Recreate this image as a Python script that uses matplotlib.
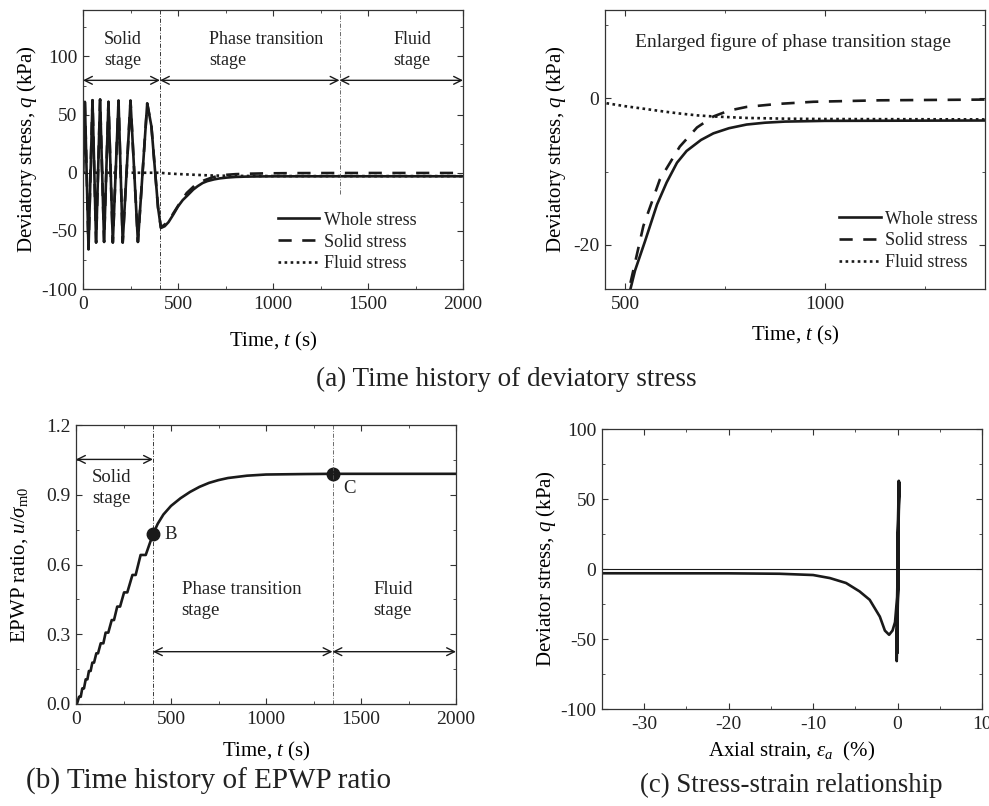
import numpy as np
import matplotlib
matplotlib.use("Agg")
import matplotlib.pyplot as plt
from matplotlib.ticker import MultipleLocator, FormatStrFormatter

# ---- data ----
# cyclic (solid) stage: start, then peak / trough pairs of deviatory stress
cyc_t = [0, 10, 29, 50, 69, 90, 111, 134, 157, 187, 209, 250, 289, 338, 360, 380, 395]
cyc_q = [0, 61, -65.8, 62.4, -60, 63, -59.5, 61, -60, 62, -60, 62, -59.5, 59.6, 40, 0, -30]

# phase transition + fluid stage
whole_t = [410, 430, 450, 475, 500, 525, 550, 580, 604, 630, 654, 690, 721, 760, 804, 850, 900, 1000, 1400, 2000]
whole_q = [-47.5, -46, -42.5, -36, -29, -23.5, -19.5, -14.5, -11.5, -8.8, -7.2, -5.7, -4.8, -4.1, -3.6, -3.35, -3.2, -3.1, -3.05, -3.05]

solid_t = [410, 450, 475, 506, 546, 587, 637, 680, 721, 760, 804, 880, 971, 1137, 1400, 2000]
solid_q = [-47, -42, -35, -27, -17.4, -11.1, -6.6, -4.0, -2.5, -1.7, -1.2, -0.8, -0.5, -0.3, -0.2, -0.2]

fluid_t = [0, 400, 454, 500, 554, 600, 637, 680, 721, 804, 900, 1000, 1400, 2000]
fluid_q = [0, 0, -0.7, -1.1, -1.5, -1.85, -2.1, -2.35, -2.5, -2.7, -2.8, -2.85, -2.9, -2.9]

# EPWP ratio
epwp_t = [0, 5, 16, 25, 33, 42, 51, 60, 68, 77, 86, 95, 107, 116, 130, 144, 156, 170,
          188, 200, 217, 232, 253, 270, 297, 314, 340, 367, 405, 430, 460, 500, 550,
          600, 650, 700, 750, 800, 900, 1000, 1200, 1350, 2000]
epwp_r = [0, 0, 0.031, 0.031, 0.067, 0.067, 0.106, 0.106, 0.142, 0.142, 0.178, 0.178,
          0.218, 0.218, 0.261, 0.261, 0.307, 0.307, 0.361, 0.361, 0.419, 0.419, 0.480,
          0.480, 0.555, 0.555, 0.641, 0.641, 0.73, 0.775, 0.815, 0.852, 0.885, 0.912,
          0.934, 0.951, 0.963, 0.972, 0.982, 0.987, 0.989, 0.99, 0.99]
pt_B = (405, 0.73)
pt_C = (1350, 0.99)

# stress-strain path
ss_strain = [0, 0.12, -0.1, 0.14, -0.08, 0.15, -0.06, 0.16, -0.05, 0.17, -0.04, 0.18, -0.05,
             0.15, 0.08, -0.05, -0.3, -0.6, -1.0, -1.5, -2.1, -3.3, -4.5, -6.1, -8.0, -10.0,
             -14.0, -20.0, -35.0]
ss_q = [0, 61, -65.8, 62.4, -60, 63, -59.5, 61, -60, 62, -60, 62, -59.5,
        59.6, 20, -20, -38, -44, -47, -44, -34, -22, -16, -10, -6.5, -4.3,
        -3.4, -3.1, -3.05]

t_solid_end = 405
t_fluid_start = 1350

plt.rcParams.update({
    "font.family": "Liberation Serif",
    "mathtext.fontset": "custom",
    "mathtext.rm": "Liberation Serif",
    "mathtext.it": "Liberation Serif:italic",
    "axes.unicode_minus": False,
    "font.size": 14,
    "axes.labelsize": 15,
    "text.color": "#222222",
    "axes.edgecolor": "#333333",
    "axes.linewidth": 0.9,
    "xtick.direction": "in",
    "ytick.direction": "in",
    "xtick.top": True,
    "ytick.right": True,
    "xtick.major.size": 4,
    "ytick.major.size": 4,
    "xtick.minor.size": 2.5,
    "ytick.minor.size": 2.5,
    "xtick.labelsize": 14,
    "ytick.labelsize": 14,
    "xtick.major.pad": 5,
    "ytick.major.pad": 4,
})

W, H = 989, 806
fig = plt.figure(figsize=(W / 100, H / 100), dpi=100)


def box(l, t, r, b):
    return [l / W, 1 - b / H, (r - l) / W, (b - t) / H]


ax1 = fig.add_axes(box(83, 10, 463, 289))
ax2 = fig.add_axes(box(605, 10, 985, 289))
ax3 = fig.add_axes(box(76, 425, 456, 704))
ax4 = fig.add_axes(box(602, 429, 982, 709))

lc = "#1a1a1a"
lw = 1.9
dash = (0, (5, 4))
dot = (0, (1, 1.3))
dashdot = (0, (5, 2, 1, 2))
ann_fs = 13.5

whole_all_t = cyc_t + whole_t
whole_all_q = cyc_q + whole_q
solid_all_t = cyc_t + solid_t
solid_all_q = cyc_q + solid_q

# (a) left
ax1.plot(solid_all_t, solid_all_q, color=lc, lw=lw, ls=dash, label="Solid stress")
ax1.plot(fluid_t, fluid_q, color=lc, lw=lw, ls=dot, label="Fluid stress")
ax1.plot(whole_all_t, whole_all_q, color=lc, lw=lw, label="Whole stress")
ax1.axvline(t_solid_end, color=lc, lw=0.6, ls=dashdot)
ax1.vlines(t_fluid_start, -18, 140, color="#555555", lw=0.6, ls=dashdot)
ax1.set_xlim(0, 2000)
ax1.set_ylim(-100, 140)
ax1.xaxis.set_major_locator(MultipleLocator(500))
ax1.xaxis.set_minor_locator(MultipleLocator(250))
ax1.yaxis.set_minor_locator(MultipleLocator(25))
ax1.set_yticks([-100, -50, 0, 50, 100])
ax1.set_xlabel(r"Time, $t$ (s)")
ax1.xaxis.set_label_coords(0.5, -0.147)
ax1.set_ylabel(r"Deviatory stress, $q$ (kPa)")
ax1.yaxis.set_label_coords(-0.115, 0.5)
arr = dict(arrowstyle="<->", lw=1.0, color=lc, shrinkA=0, shrinkB=0, mutation_scale=14)
for a, b in [(0, t_solid_end), (t_solid_end, t_fluid_start), (t_fluid_start, 2000)]:
    ax1.annotate("", xy=(b, 79.5), xytext=(a, 79.5), arrowprops=arr)
ax1.text(110, 105.5, "Solid\nstage", ha="left", va="center", linespacing=1.3, fontsize=13)
ax1.text(665, 105.5, "Phase transition\nstage", ha="left", va="center", linespacing=1.3, fontsize=13)
ax1.text(1633, 105.5, "Fluid\nstage", ha="left", va="center", linespacing=1.3, fontsize=13)
h, l = ax1.get_legend_handles_labels()
order = [2, 0, 1]
leg_kw = dict(loc="upper left", frameon=False, borderpad=0, borderaxespad=0,
              handlelength=2.3, handletextpad=0.25, labelspacing=0.27, fontsize=13)
ax1.legend([h[i] for i in order], [l[i] for i in order], bbox_to_anchor=(0.513, 0.277), **leg_kw)

# (a) right, enlarged
ax2.plot(solid_t, solid_q, color=lc, lw=lw, ls=dash, label="Solid stress")
ax2.plot(fluid_t, fluid_q, color=lc, lw=lw, ls=dot, label="Fluid stress")
ax2.plot(whole_t, whole_q, color=lc, lw=lw, label="Whole stress")
ax2.set_xlim(450, 1400)
ax2.set_ylim(-26, 12)
ax2.xaxis.set_major_locator(MultipleLocator(500))
ax2.xaxis.set_minor_locator(MultipleLocator(250))
ax2.yaxis.set_major_locator(MultipleLocator(20))
ax2.yaxis.set_minor_locator(MultipleLocator(10))
ax2.set_xlabel(r"Time, $t$ (s)")
ax2.xaxis.set_label_coords(0.5, -0.125)
ax2.set_ylabel(r"Deviatory stress, $q$ (kPa)")
ax2.text(919, 7.6, "Enlarged figure of phase transition stage", ha="center", va="center")
h, l = ax2.get_legend_handles_labels()
ax2.legend([h[i] for i in order], [l[i] for i in order], bbox_to_anchor=(0.616, 0.281), **leg_kw)

# (b) EPWP ratio
ax3.plot(epwp_t, epwp_r, color=lc, lw=lw)
ax3.plot(*pt_B, "o", color=lc, ms=9)
ax3.plot(*pt_C, "o", color=lc, ms=9)
ax3.text(pt_B[0] + 60, pt_B[1], "B", ha="left", va="center", fontsize=ann_fs)
ax3.text(pt_C[0] + 55, pt_C[1] - 0.062, "C", ha="left", va="center", fontsize=ann_fs)
ax3.axvline(t_solid_end, color=lc, lw=0.6, ls=dashdot)
ax3.axvline(t_fluid_start, color="#555555", lw=0.6, ls=dashdot)
ax3.annotate("", xy=(t_solid_end, 1.052), xytext=(0, 1.052), arrowprops=arr)
ax3.annotate("", xy=(t_fluid_start, 0.225), xytext=(t_solid_end, 0.225), arrowprops=arr)
ax3.annotate("", xy=(2000, 0.225), xytext=(t_fluid_start, 0.225), arrowprops=arr)
ax3.text(83, 0.929, "Solid\nstage", ha="left", va="center", linespacing=1.3, fontsize=ann_fs)
ax3.text(556, 0.447, "Phase transition\nstage", ha="left", va="center", linespacing=1.3, fontsize=ann_fs)
ax3.text(1565, 0.447, "Fluid\nstage", ha="left", va="center", linespacing=1.3, fontsize=ann_fs)
ax3.set_xlim(0, 2000)
ax3.set_ylim(0, 1.2)
ax3.xaxis.set_major_locator(MultipleLocator(500))
ax3.xaxis.set_minor_locator(MultipleLocator(250))
ax3.yaxis.set_major_locator(MultipleLocator(0.3))
ax3.yaxis.set_minor_locator(MultipleLocator(0.15))
ax3.yaxis.set_major_formatter(FormatStrFormatter("%.1f"))
ax3.set_xlabel(r"Time, $t$ (s)")
ax3.xaxis.set_label_coords(0.5, -0.129)
ax3.set_ylabel(r"EPWP ratio, $u/\sigma_{\mathrm{m0}}$")
ax3.yaxis.set_label_coords(-0.121, 0.5)

# (c) stress-strain
ax4.axhline(0, color=lc, lw=0.8)
ax4.plot(ss_strain, ss_q, color=lc, lw=lw)
ax4.set_xlim(-35, 10)
ax4.set_ylim(-100, 100)
ax4.xaxis.set_major_locator(MultipleLocator(10))
ax4.xaxis.set_minor_locator(MultipleLocator(5))
ax4.yaxis.set_major_locator(MultipleLocator(50))
ax4.yaxis.set_minor_locator(MultipleLocator(25))
ax4.set_xlabel(r"Axial strain, $\varepsilon_a$  (%)")
ax4.xaxis.set_label_coords(0.5, -0.111)
ax4.set_ylabel(r"Deviator stress, $q$ (kPa)")
ax4.yaxis.set_label_coords(-0.116, 0.5)

for ax in (ax1, ax2, ax3, ax4):
    ax.tick_params(which="both", colors="#333333", labelcolor="#222222")

fig.text(506 / W, 1 - 379 / H, "(a) Time history of deviatory stress", ha="center", va="center", fontsize=19.5)
fig.text(209 / W, 1 - 781 / H, "(b) Time history of EPWP ratio", ha="center", va="center", fontsize=21)
fig.text(791 / W, 1 - 785 / H, "(c) Stress-strain relationship", ha="center", va="center", fontsize=19.3)

fig.savefig("out.png", dpi=100)
